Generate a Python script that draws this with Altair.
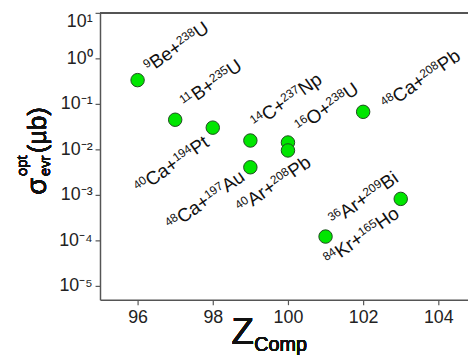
import math
import altair as alt
import pandas as pd

# ---- data ----
z_comp = [96, 97, 98, 99, 99, 100, 100, 101, 102, 103]
sigma = [0.333, 0.0449, 0.0301, 0.0157, 0.00406, 0.0142, 0.0095, 1.22e-4, 0.067, 8.2e-4]
proj_mass = ["9", "11", "40", "14", "48", "16", "40", "36", "48", "84"]
projectile = ["Be", "B", "Ca", "C", "Ca", "O", "Ar", "Ar", "Ca", "Kr"]
targ_mass = ["238", "235", "194", "237", "197", "238", "208", "209", "208", "165"]
target = ["U", "U", "Pt", "Np", "Au", "U", "Pb", "Bi", "Pb", "Ho"]
x_ticks = [96, 98, 100, 102, 104]
y_ticks = [1e-5, 1e-4, 1e-3, 1e-2, 1e-1, 1, 10]

n = len(z_comp)
df = pd.DataFrame({"z": z_comp, "sigma": sigma})

# ---- styles / layout ----
FONT = "Liberation Sans"
W, H = 372, 290
X_DOMAIN = [95, 95 + W / 38.0]
Y_DOMAIN = [5e-6, 10]
PX_PER_Z = W / (X_DOMAIN[1] - X_DOMAIN[0])
PX_PER_DEC = H / math.log10(Y_DOMAIN[1] / Y_DOMAIN[0])
ANGLE = 325
MAIN_FS, SUP_FS, SUP_RAISE = 19, 12, 6
TEXT_H = 14
# label centre offsets on screen (px) relative to the marker
label_offsets = [(39, -34), (36, -37), (-42, 37), (36, -41), (-46, 33),
                 (39, -36), (-15, 34), (38, -39), (58, -33), (-40, 37)]

ADV = {"0": .556, "1": .556, "2": .556, "3": .556, "4": .556, "5": .556, "6": .556,
       "7": .556, "8": .556, "9": .556, "B": .667, "e": .556, "+": .584, "U": .722,
       "C": .722, "a": .556, "P": .667, "t": .278, "N": .722, "p": .556, "A": .667,
       "u": .556, "O": .778, "r": .333, "b": .556, "i": .222, "K": .667, "H": .722,
       "o": .556}

def width(s, fs):
    return sum(ADV.get(ch, .6) for ch in s) * fs

A = math.radians(ANGLE)
CA, SA = math.cos(A), math.sin(A)

def to_rot(ox, oy):          # screen offset -> text frame
    return CA * ox + SA * oy, -SA * ox + CA * oy

def to_screen(dx, dy):       # text frame -> screen offset
    return CA * dx - SA * dy, SA * dx + CA * dy

# label pieces: anchored at the marker, shifted by a pixel offset through the scales
rows = []
for i in range(n):
    parts = [(proj_mass[i], True), (projectile[i] + "+", False),
             (targ_mass[i], True), (target[i], False)]
    total = sum(width(t, SUP_FS if sup else MAIN_FS) for t, sup in parts)
    cdx, cdy = to_rot(*label_offsets[i])
    cur = cdx - total / 2.0
    base_dy = cdy + TEXT_H / 2.0
    for t, sup in parts:
        fs = SUP_FS if sup else MAIN_FS
        sx, sy = to_screen(cur, base_dy - (SUP_RAISE if sup else 0))
        rows.append({"t": t, "sup": sup,
                     "z": z_comp[i] + sx / PX_PER_Z,
                     "sigma": sigma[i] * 10 ** (-sy / PX_PER_DEC)})
        cur += width(t, fs)
lab = pd.DataFrame(rows)

xs = alt.X("z:Q", scale=alt.Scale(domain=X_DOMAIN, nice=False, zero=False),
           axis=alt.Axis(values=x_ticks, title=None, grid=False, format="d",
                         tickSize=5, labelPadding=4, labelFontSize=18, labelFont=FONT,
                         labelColor="#222", domainColor="#555", tickColor="#555",
                         domainWidth=1.5, tickWidth=1.2))
e_expr = "round(log(datum.value)/LN10)"
y_label_expr = ("'10' + (" + e_expr + "==1 ? '¹' : " + e_expr + "==0 ? '⁰' : "
                + e_expr + "==-1 ? '⁻¹' : " + e_expr + "==-2 ? '⁻²' : "
                + e_expr + "==-3 ? '⁻³' : " + e_expr + "==-4 ? '⁻⁴' : '⁻⁵')")
ys = alt.Y("sigma:Q", scale=alt.Scale(type="log", domain=Y_DOMAIN, nice=False),
           axis=alt.Axis(values=y_ticks, title=None, grid=False, labelExpr=y_label_expr,
                         tickSize=5, labelPadding=3, labelFontSize=18, labelFont=FONT,
                         labelColor="#222", domainColor="#555", tickColor="#555",
                         domainWidth=1.5, tickWidth=1.2, labelFlush=True,
                         labelFlushOffset=0))

points = alt.Chart(df).mark_point(filled=True, shape="circle", size=185, fill="#00e600",
                                  stroke="#1f4a1f", strokeWidth=1, opacity=1).encode(x=xs, y=ys)

main_txt = alt.Chart(lab).transform_filter("!datum.sup").mark_text(
    angle=ANGLE, align="left", baseline="alphabetic", font=FONT, fontSize=MAIN_FS,
    color="#111").encode(x="z:Q", y="sigma:Q", text="t:N")
sup_txt = alt.Chart(lab).transform_filter("datum.sup").mark_text(
    angle=ANGLE, align="left", baseline="alphabetic", font=FONT, fontSize=SUP_FS,
    color="#111").encode(x="z:Q", y="sigma:Q", text="t:N")

top_rule = alt.Chart(df).mark_rule(color="#555", strokeWidth=1.5).encode(
    x=alt.value(0), x2=alt.value(W), y=alt.value(0))

# axis titles as text pieces (positions relative to plot origin at screen (101, 11))
def title_piece(txt, sx, sy, size, angle=0):
    props = dict(text=txt, font=FONT, fontSize=size, color="#111", align="left",
                 baseline="alphabetic")
    if angle:
        props["angle"] = angle
    return alt.Chart(df).mark_text(**props).encode(
        x=alt.value(sx - 101), y=alt.value(sy - 11))

titles = [
    title_piece("σ", 46, 195, 28, 270),
    title_piece("opt", 27, 176, 15, 270),
    title_piece("evr", 50, 176, 15, 270),
    title_piece("(μb)", 46, 153, 26, 270),
    title_piece("Z", 234, 346, 37),
    title_piece("Comp", 257, 353, 20),
]

chart = alt.layer(points, main_txt, sup_txt, top_rule, *titles).properties(
    width=W, height=H,
    autosize=alt.AutoSizeParams(type="none"),
    padding={"left": 93, "top": 3, "right": 0, "bottom": 57},
    background="white",
).configure_view(strokeWidth=0)

chart.save("out.html", embed_options={"renderer": "svg", "actions": False})
